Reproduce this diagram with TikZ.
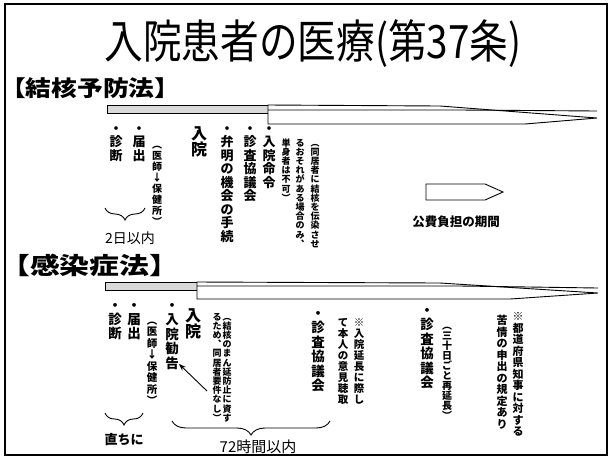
\documentclass[tikz,border=0pt]{standalone}
\usepackage{fontspec}
\newfontfamily\jp{Noto Sans CJK JP}
\newfontfamily\jpwide[FakeStretch=1.17]{Noto Sans CJK JP}
\newfontfamily\jpwider[FakeStretch=1.27]{Noto Sans CJK JP}
\newfontfamily\jpnarrow[FakeStretch=0.84]{Noto Sans CJK JP}
\usetikzlibrary{decorations.pathreplacing,arrows.meta}
% vertical (tategaki) stacking of single glyphs
\newcommand\tatebox[1]{\hbox to 1em{\vrule height .88em depth .12em width 0pt\hss#1\hss}}
\def\tateloop#1{\ifx#1\relax\else\tatebox{#1}\expandafter\tateloop\fi}
\newcommand\tate[3]{\vbox{\fontsize{#1}{#2}\selectfont\baselineskip=#2\relax\lineskiplimit=-100pt\lineskip=0pt\tateloop#3\relax}}
\tikzset{
  frame/.style={line width=1.6pt},
  col/.style={inner sep=0pt, anchor=north, font=\jp\bfseries},
  barline/.style={line width=0.9pt},
  shadebar/.style={barline, fill=gray!30},
  bracestyle/.style={decorate, decoration={brace, amplitude=12pt}, line width=0.9pt},
  arr/.style={line width=0.9pt, -{Stealth[length=7pt,width=5pt]}},
  plain/.style={inner sep=0pt},
}
\begin{document}
\begin{tikzpicture}[x=1pt,y=-1pt]
\useasboundingbox (0,0) rectangle (612,459);
\draw[frame] (5,4) rectangle (607,455);

% title
\node[plain, font=\jpnarrow\fontsize{46pt}{46pt}\selectfont] (title) at (313,44) {入院患者の医療(第37条)};

% section headings
\node[plain, anchor=west, font=\jpwide\bfseries\fontsize{22pt}{22pt}\selectfont] (law1) at (0,88) {【結核予防法】};
\node[plain, anchor=west, font=\jpwider\bfseries\fontsize{23.5pt}{23.5pt}\selectfont] (law2) at (0,265) {【感染症法】};

% ---- bar 1 ----
\draw[shadebar] (107,105) rectangle (268,113);
\draw[barline, fill=white] (268,105) -- (440,106) -- (597,118) -- (525,124) -- (268,124) -- cycle;
\draw[barline] (268,110) -- (460,110) -- (597,111);

% ---- bar 2 ----
\draw[shadebar] (105,282) rectangle (197,290);
\draw[barline, fill=white] (197,282) -- (440,283) -- (598,293) -- (510,299) -- (197,299) -- cycle;
\draw[barline] (197,286) -- (460,286) -- (598,288);

% legend
\draw[barline] (426,184) -- (485,184) -- (503,192) -- (485,200) -- (426,200) -- cycle;
\node[plain, font=\jp\bfseries\fontsize{12.5pt}{12.5pt}\selectfont] (legend) at (456,222) {公費負担の期間};

% ---- section 1 columns ----
\node[col] (a1) at (116,121.5) {\tate{13pt}{13.5pt}{・診断}};
\node[col] (a2) at (139,121.5) {\tate{13pt}{13.5pt}{・届出}};
\node[col] (a3) at (157,139) {\tate{10pt}{11pt}{︵医師↓保健所︶}};
\node[col] (a4) at (199,125) {\tate{16pt}{16pt}{入院}};
\node[col] (a5) at (227,121.5) {\tate{13pt}{13.5pt}{・弁明の機会の手続}};
\node[col] (a6) at (250,121.5) {\tate{13pt}{13.5pt}{・診査協議会}};
\node[col] (a7) at (269,121.5) {\tate{13pt}{13.5pt}{・入院命令}};
\node[col] (a8) at (315,138) {\tate{9pt}{9.2pt}{︵同居者に結核を伝染させ}};
\node[col] (a9) at (300,138) {\tate{9pt}{9.2pt}{るおそれがある場合のみ︑}};
\node[col] (a10) at (286,138) {\tate{9pt}{9.2pt}{単身者は不可︶}};

\coordinate (br1r) at (145,208);
\coordinate (br1l) at (105,208);
\draw[bracestyle] (br1r) -- (br1l);
\node[plain, font=\jp\fontsize{14pt}{14pt}\selectfont] (days2) at (130,238) {2日以内};

% ---- section 2 columns ----
\node[col] (b1) at (115,298) {\tate{13.5pt}{14pt}{・診断}};
\node[col] (b2) at (134,298) {\tate{13.5pt}{14pt}{・届出}};
\node[col] (b3) at (152,315) {\tate{10.5pt}{11.5pt}{︵医師↓保健所︶}};
\node[col] (b4) at (172,298) {\tate{13.5pt}{14.5pt}{・入院勧告}};
\node[col] (b5) at (193,307) {\tate{16pt}{16pt}{入院}};
\node[col] (b6) at (227,312) {\tate{9pt}{9.2pt}{︵結核のまん延防止に資す}};
\node[col] (b7) at (217,312) {\tate{9pt}{9.2pt}{るため︑同居者要件なし︶}};
\node[col] (b8) at (318,306) {\tate{13.5pt}{14.5pt}{・診査協議会}};
\node[col] (b9) at (359,317) {\tate{10.5pt}{11pt}{※入院延長に際し}};
\node[col] (b10) at (343,317) {\tate{10.5pt}{11pt}{て本人の意見聴取}};
\node[col] (b11) at (427,303) {\tate{13.5pt}{14.5pt}{・診査協議会}};
\node[col] (b12) at (447,320) {\tate{10pt}{10pt}{︵三十日ごと再延長︶}};
\node[col] (b13) at (518,311) {\tate{11pt}{11.5pt}{※都道府県知事に対する}};
\node[col] (b14) at (502,315) {\tate{11pt}{11.5pt}{苦情の申出の規定あり}};

\coordinate (arrtail) at (207,391);
\draw[arr] (arrtail) -- ([yshift=6pt]b4.south east);

\coordinate (br2r) at (143,413);
\coordinate (br2l) at (105,413);
\draw[bracestyle] (br2r) -- (br2l);
\node[plain, font=\jp\bfseries\fontsize{13pt}{13pt}\selectfont] (imm) at (124,440) {直ちに};

\coordinate (br3r) at (330,421);
\coordinate (br3l) at (172,421);
\draw[bracestyle, decoration={amplitude=14pt}] (br3r) -- (br3l);
\node[plain, font=\jp\fontsize{15pt}{15pt}\selectfont] (h72) at (258,447) {72時間以内};
\end{tikzpicture}
\end{document}
